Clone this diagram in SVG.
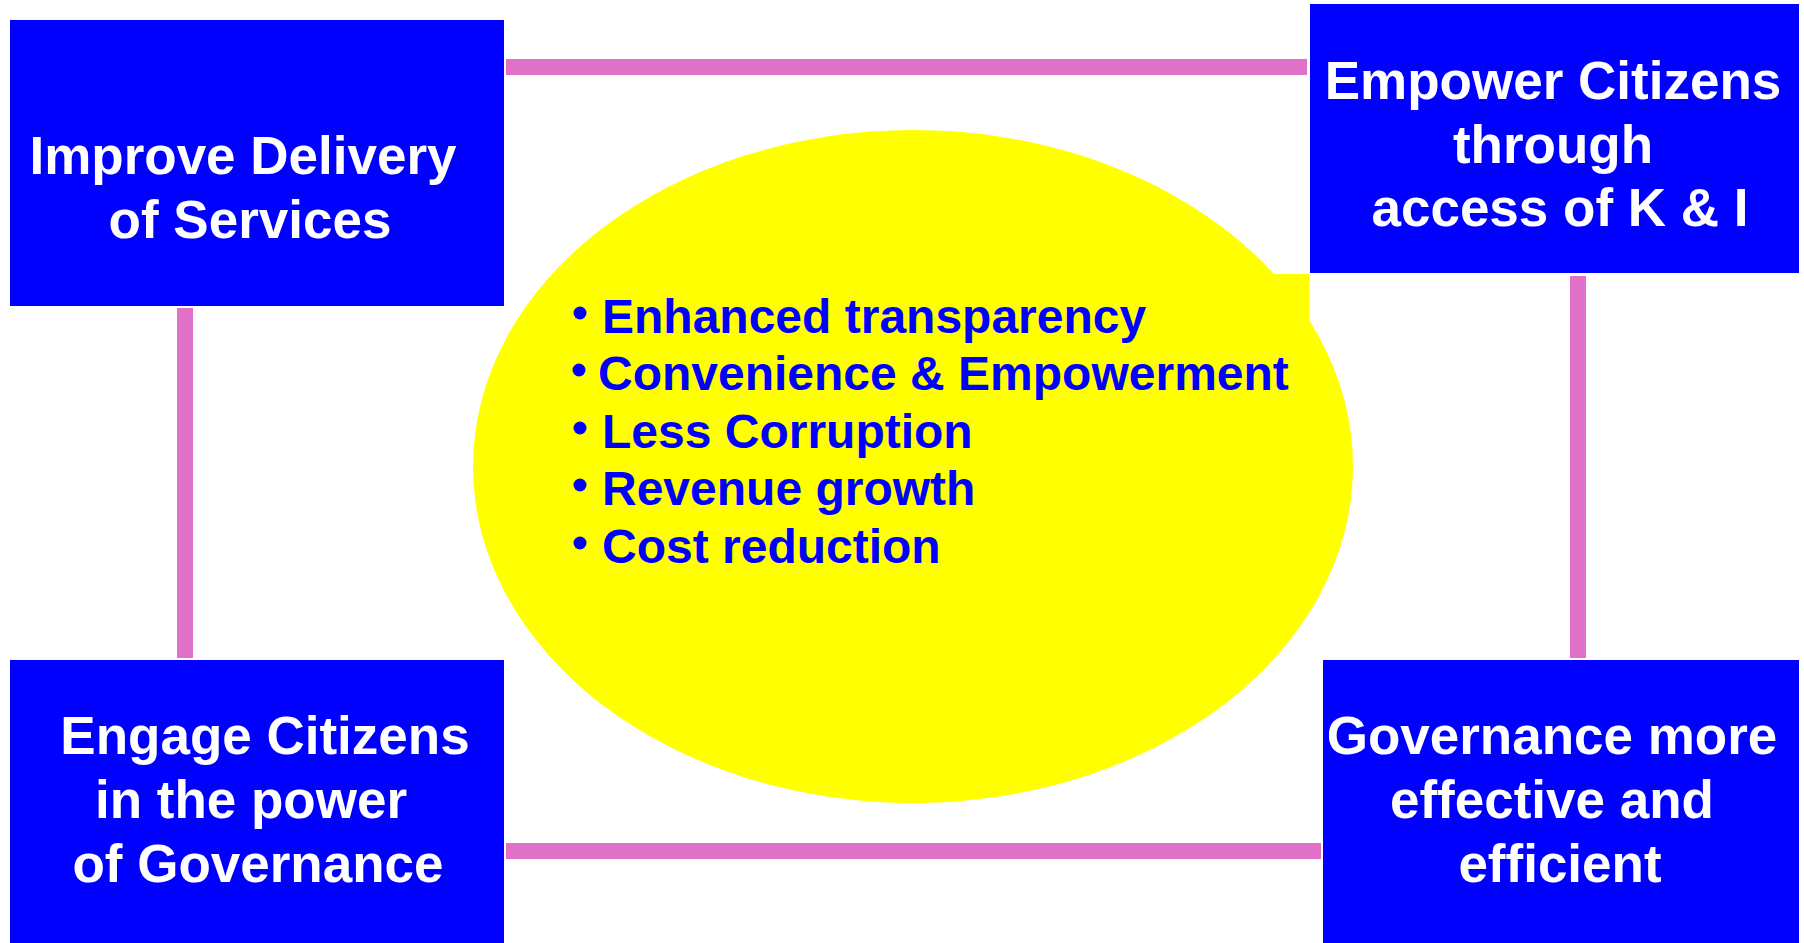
<svg xmlns="http://www.w3.org/2000/svg" width="1804" height="943" viewBox="0 0 1804 943">
<style>
.box{fill:#0000FF}
.bt{font-family:"Liberation Sans",Arial,sans-serif;font-weight:bold;font-size:53px;fill:#FFFFFF;text-anchor:middle}
.con{fill:#E070C8}
.it{font-family:"Liberation Sans",Arial,sans-serif;font-weight:bold;font-size:48px;fill:#0000FF}
.dot{fill:#0000FF}
</style>
<rect width="1804" height="943" fill="#FFFFFF"/>
<g id="center">
<ellipse cx="913" cy="466.5" rx="440" ry="336.5" fill="#FFFF00"/>
<rect x="1250" y="274" width="59" height="47" fill="#FFFF00"/>
<circle class="dot" cx="580" cy="313" r="6.5"/>
<text class="it" x="602" y="333">Enhanced transparency</text>
<circle class="dot" cx="579" cy="370" r="6.5"/>
<text class="it" x="598" y="390">Convenience &amp; Empowerment</text>
<circle class="dot" cx="580" cy="428" r="6.5"/>
<text class="it" x="602" y="448">Less Corruption</text>
<circle class="dot" cx="580" cy="485" r="6.5"/>
<text class="it" x="602" y="505">Revenue growth</text>
<circle class="dot" cx="580" cy="543" r="6.5"/>
<text class="it" x="602" y="563">Cost reduction</text>
</g>
<g id="connectors">
<rect class="con" x="506" y="59" width="801" height="16"/>
<rect class="con" x="506" y="843" width="815" height="16"/>
<rect class="con" x="177" y="308" width="16" height="350"/>
<rect class="con" x="1570" y="276" width="16" height="382"/>
</g>
<g id="improve">
<rect class="box" x="10" y="20" width="494" height="286"/>
<text class="bt" x="243" y="174">Improve Delivery</text>
<text class="bt" x="250" y="238">of Services</text>
</g>
<g id="empower">
<rect class="box" x="1310" y="4" width="489" height="269"/>
<text class="bt" x="1553" y="99">Empower Citizens</text>
<text class="bt" x="1553" y="163">through</text>
<text class="bt" x="1560" y="226">access of K &amp; I</text>
</g>
<g id="engage">
<rect class="box" x="10" y="660" width="494" height="283"/>
<text class="bt" x="265" y="754">Engage Citizens</text>
<text class="bt" x="251" y="818">in the power</text>
<text class="bt" x="258" y="882">of Governance</text>
</g>
<g id="governance">
<rect class="box" x="1323" y="660" width="476" height="283"/>
<text class="bt" x="1552" y="754">Governance more</text>
<text class="bt" x="1552" y="818">effective and</text>
<text class="bt" x="1560" y="882">efficient</text>
</g>
</svg>
